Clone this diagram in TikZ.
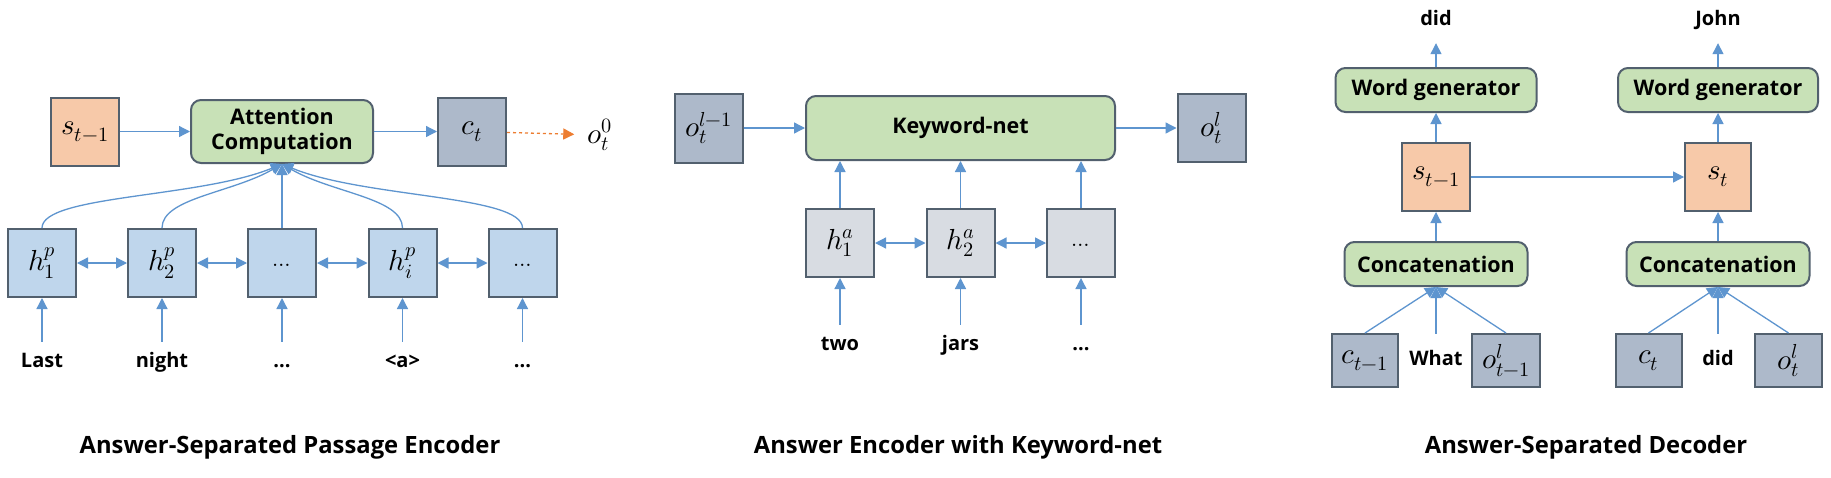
\documentclass[tikz,border=0pt]{standalone}
\usepackage{fontspec}
\usepackage{unicode-math}
\setmainfont{Open Sans}
\setmathfont{Latin Modern Math}
\usetikzlibrary{arrows.meta}
\definecolor{bord}{HTML}{52606E}
\definecolor{sfill}{HTML}{F7C9A9}
\definecolor{cfill}{HTML}{ADB9CA}
\definecolor{hfill}{HTML}{BFD6EC}
\definecolor{afill}{HTML}{D8DCE2}
\definecolor{gfill}{HTML}{C8E1B7}
\definecolor{acol}{HTML}{5E95CF}
\definecolor{ocol}{HTML}{ED7D31}
\tikzset{
  box/.style={draw=bord, line width=2pt, minimum width=68pt, minimum height=68pt, inner sep=0pt, font=\fontsize{29}{32}\selectfont},
  sbox/.style={box, fill=sfill},
  cbox/.style={box, fill=cfill},
  hbox/.style={box, fill=hfill},
  abox/.style={box, fill=afill},
  gbox/.style={draw=bord, line width=2pt, fill=gfill, rounded corners=10pt, inner sep=0pt, align=center, font=\fontsize{21.5}{25}\selectfont\bfseries},
  word/.style={inner sep=0pt, text height=14pt, text depth=4pt, minimum height=40pt, font=\fontsize{20}{23}\selectfont\bfseries},
  caption/.style={inner sep=0pt, font=\fontsize{23.8}{28}\selectfont\bfseries},
  mathlbl/.style={inner sep=0pt, font=\fontsize{29}{32}\selectfont},
  arr/.style={draw=acol, line width=1.3pt, -{Triangle[length=11pt,width=11pt]}},
  barr/.style={draw=acol, line width=1.3pt, {Triangle[length=11pt,width=11pt]}-{Triangle[length=11pt,width=11pt]}},
  darr/.style={draw=ocol, line width=1.3pt, dashed, -{Triangle[length=11pt,width=11pt]}}
}
\begin{document}
\begin{tikzpicture}[x=1pt,y=-1pt]
\useasboundingbox (0,0) rectangle (1831,477);
\fill[white] (0,0) rectangle (1831,477);

% ---------- Panel 1 ----------
\node[sbox] (s1) at (85,131.5) {$s_{t-1}$};
\node[gbox, minimum width=182pt, minimum height=63pt] (att) at (282,131.5) {Attention\\Computation};
\node[cbox] (ct) at (472,131.5) {$c_t$};
\node[mathlbl] (o0) at (600,135) {$o_t^0$};
\draw[arr] (s1) -- (att);
\draw[arr] (att) -- (ct);
\draw[darr, shorten >=13pt] (ct) -- (o0);

\node[hbox] (h1) at (42,263) {$h_1^p$};
\node[hbox] (h2) at (162,263) {$h_2^p$};
\node[hbox] (h3) at (282,263) {\raisebox{-6pt}{\fontsize{22}{22}\selectfont$\ldots$}};
\node[hbox] (h4) at (402.5,263) {$h_i^p$};
\node[hbox] (h5) at (522.5,263) {\raisebox{-6pt}{\fontsize{22}{22}\selectfont$\ldots$}};
\draw[barr] (h1) -- (h2);
\draw[barr] (h2) -- (h3);
\draw[barr] (h3) -- (h4);
\draw[barr] (h4) -- (h5);

\draw[arr] (h1.north) .. controls (42,195) and (200,198) .. (att.south);
\draw[arr] (h2.north) .. controls (162,198) and (232,193) .. (att.south);
\draw[arr] (h3.north) -- (att.south);
\draw[arr] (h4.north) .. controls (402.5,198) and (332,193) .. (att.south);
\draw[arr] (h5.north) .. controls (522.5,195) and (364,198) .. (att.south);

\node[word] (w1) at (42,362) {Last};
\node[word] (w2) at (162,362) {night};
\node[word] (w3) at (282,362) {...};
\node[word] (w4) at (402.5,362) {<a>};
\node[word] (w5) at (522.5,362) {...};
\draw[arr] (w1) -- (h1);
\draw[arr] (w2) -- (h2);
\draw[arr] (w3) -- (h3);
\draw[arr] (w4) -- (h4);
\draw[arr] (w5) -- (h5);

% ---------- Panel 2 ----------
\node[cbox, minimum height=69pt] (ol1) at (708.5,128) {$o_t^{l-1}$};
\node[gbox, minimum width=309pt, minimum height=64pt] (kw) at (960.5,128) {Keyword-net};
\node[cbox] (ol) at (1211.5,128) {$o_t^l$};
\draw[arr] (ol1) -- (kw);
\draw[arr] (kw) -- (ol);

\node[abox] (a1) at (840,243) {$h_1^a$};
\node[abox] (a2) at (960.5,243) {$h_2^a$};
\node[abox] (a3) at (1081,243) {\raisebox{-6pt}{\fontsize{22}{22}\selectfont$\ldots$}};
\draw[barr] (a1) -- (a2);
\draw[barr] (a2) -- (a3);
\draw[arr] (a1.north) -- (a1.north |- kw.south);
\draw[arr] (a2.north) -- (a2.north |- kw.south);
\draw[arr] (a3.north) -- (a3.north |- kw.south);

\node[word] (v1) at (840,345) {two};
\node[word] (v2) at (960.5,345) {jars};
\node[word] (v3) at (1081,345) {...};
\draw[arr] (v1) -- (a1);
\draw[arr] (v2) -- (a2);
\draw[arr] (v3) -- (a3);

% ---------- Panel 3 ----------
\node[word, minimum height=46pt] (out1) at (1436,20) {did};
\node[gbox, minimum width=201pt, minimum height=44pt] (wg1) at (1436,90) {Word generator};
\node[sbox] (st1) at (1436,177) {$s_{t-1}$};
\node[gbox, minimum width=183pt, minimum height=44pt] (cc1) at (1436,264) {Concatenation};
\node[cbox, minimum width=66pt, minimum height=53pt] (cp) at (1365,360.5) {$c_{t-1}$};
\node[word, minimum height=53pt] (in1) at (1436,360.5) {What};
\node[cbox, minimum height=53pt] (op) at (1506,360.5) {$o_{t-1}^l$};
\draw[arr] (wg1) -- (out1);
\draw[arr] (st1) -- (wg1);
\draw[arr] (cc1) -- (st1);
\draw[arr] (cp.north) -- (cc1.south);
\draw[arr] (in1.north) -- (cc1.south);
\draw[arr] (op.north) -- (cc1.south);

\node[word, minimum height=46pt] (out2) at (1718,20) {John};
\node[gbox, minimum width=200pt, minimum height=44pt] (wg2) at (1718,90) {Word generator};
\node[sbox, minimum width=66pt] (st2) at (1718,177) {$s_t$};
\node[gbox, minimum width=183pt, minimum height=44pt] (cc2) at (1718,264) {Concatenation};
\node[cbox, minimum width=66pt, minimum height=53pt] (cn) at (1648.5,360.5) {$c_t$};
\node[word, minimum height=53pt] (in2) at (1718,360.5) {did};
\node[cbox, minimum width=67pt, minimum height=53pt] (on) at (1788.5,360.5) {$o_t^l$};
\draw[arr] (wg2) -- (out2);
\draw[arr] (st2) -- (wg2);
\draw[arr] (cc2) -- (st2);
\draw[arr] (cn.north) -- (cc2.south);
\draw[arr] (in2.north) -- (cc2.south);
\draw[arr] (on.north) -- (cc2.south);
\draw[arr] (st1) -- (st2);

% ---------- Captions ----------
\node[caption] (cap1) at (290,447) {Answer-Separated Passage Encoder};
\node[caption] (cap2) at (958,447) {Answer Encoder with Keyword-net};
\node[caption] (cap3) at (1586,447) {Answer-Separated Decoder};
\end{tikzpicture}
\end{document}
